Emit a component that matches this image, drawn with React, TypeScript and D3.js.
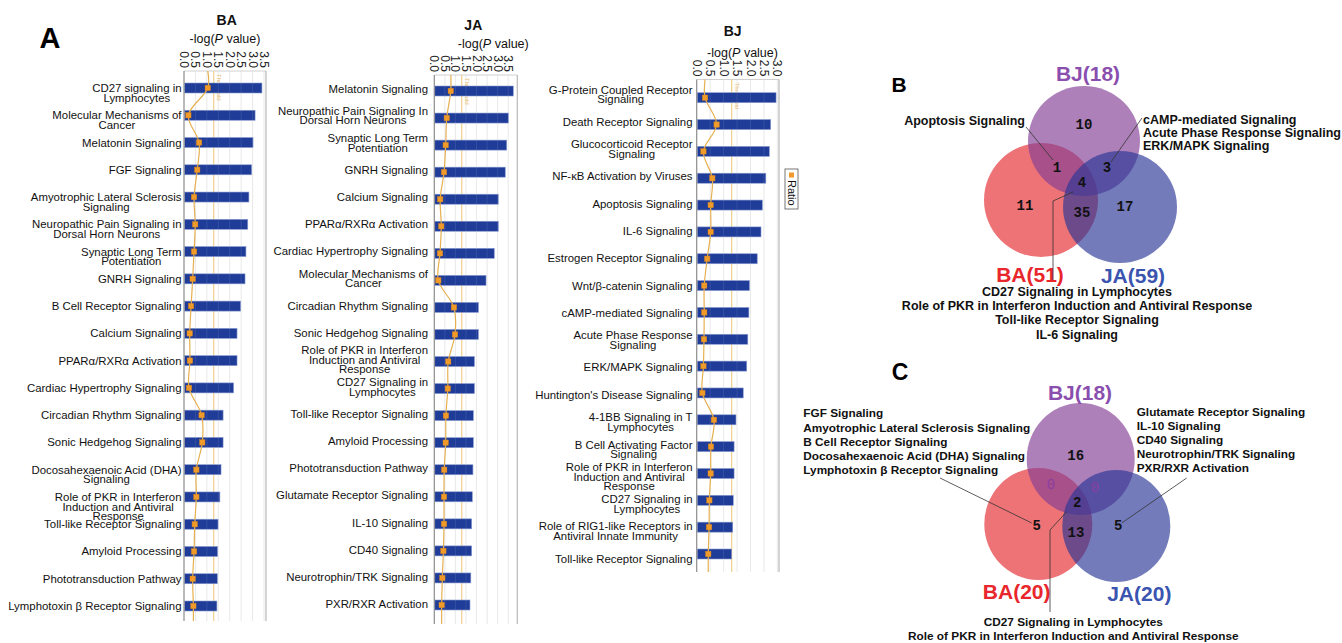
import React, { useEffect, useRef } from "react";
import * as d3 from "d3";

const W = 1342;
const H = 643;
const FONT = "'Liberation Sans',Arial,sans-serif";
const FONT_B = "'Liberation Sans',Arial,sans-serif";
const MONO = "'Liberation Mono','DejaVu Sans Mono',monospace";

// ---------- Panel A data ----------
const baCategories = [
  "CD27 signaling in\nLymphocytes",
  "Molecular Mechanisms of\nCancer",
  "Melatonin Signaling",
  "FGF Signaling",
  "Amyotrophic Lateral Sclerosis\nSignaling",
  "Neuropathic Pain Signaling in\nDorsal Horn Neurons",
  "Synaptic Long Term\nPotentiation",
  "GNRH Signaling",
  "B Cell Receptor Signaling",
  "Calcium Signaling",
  "PPARα/RXRα Activation",
  "Cardiac Hypertrophy Signaling",
  "Circadian Rhythm Signaling",
  "Sonic Hedgehog Signaling",
  "Docosahexaenoic Acid (DHA)\nSignaling",
  "Role of PKR in Interferon\nInduction and Antiviral\nResponse",
  "Toll-like Receptor Signaling",
  "Amyloid Processing",
  "Phototransduction Pathway",
  "Lymphotoxin β Receptor Signaling",
];
const baLogP = [3.41, 3.11, 3.02, 2.96, 2.84, 2.79, 2.71, 2.67, 2.48, 2.32, 2.32, 2.17, 1.71, 1.71, 1.62, 1.57, 1.49, 1.47, 1.46, 1.44];
const baRatio = [1.04, 0.19, 0.66, 0.58, 0.44, 0.49, 0.44, 0.38, 0.31, 0.25, 0.26, 0.22, 0.77, 0.8, 0.54, 0.54, 0.47, 0.44, 0.38, 0.41];

const jaCategories = [
  "Melatonin Signaling",
  "Neuropathic Pain Signaling In\nDorsal Horn Neurons",
  "Synaptic Long Term\nPotentiation",
  "GNRH Signaling",
  "Calcium Signaling",
  "PPARα/RXRα Activation",
  "Cardiac Hypertrophy Signaling",
  "Molecular Mechanisms of\nCancer",
  "Circadian Rhythm Signaling",
  "Sonic Hedgehog Signaling",
  "Role of PKR in Interferon\nInduction and Antiviral\nResponse",
  "CD27 Signaling in\nLymphocytes",
  "Toll-like Receptor Signaling",
  "Amyloid Processing",
  "Phototransduction Pathway",
  "Glutamate Receptor Signaling",
  "IL-10 Signaling",
  "CD40 Signaling",
  "Neurotrophin/TRK Signaling",
  "PXR/RXR Activation",
];
const jaLogP = [3.74, 3.51, 3.43, 3.36, 3.03, 3.03, 2.84, 2.45, 2.09, 2.09, 1.9, 1.9, 1.85, 1.85, 1.83, 1.8, 1.77, 1.77, 1.73, 1.69];
const jaRatio = [0.78, 0.59, 0.54, 0.46, 0.28, 0.33, 0.27, 0.19, 0.93, 0.98, 0.66, 0.64, 0.55, 0.54, 0.47, 0.46, 0.46, 0.43, 0.38, 0.35];

const bjCategories = [
  "G-Protein Coupled Receptor\nSignaling",
  "Death Receptor Signaling",
  "Glucocorticoid Receptor\nSignaling",
  "NF-κB Activation by Viruses",
  "Apoptosis Signaling",
  "IL-6 Signaling",
  "Estrogen Receptor Signaling",
  "Wnt/β-catenin Signaling",
  "cAMP-mediated Signaling",
  "Acute Phase Response\nSignaling",
  "ERK/MAPK Signaling",
  "Huntington's Disease Signaling",
  "4-1BB Signaling in T\nLymphocytes",
  "B Cell Activating Factor\nSignaling",
  "Role of PKR in Interferon\nInduction and Antiviral\nResponse",
  "CD27 Signaling in\nLymphocytes",
  "Role of RIG1-like Receptors in\nAntiviral Innate Immunity",
  "Toll-like Receptor Signaling",
];
const bjLogP = [2.95, 2.75, 2.7, 2.57, 2.44, 2.39, 2.25, 1.96, 1.94, 1.9, 1.86, 1.73, 1.46, 1.39, 1.39, 1.36, 1.34, 1.3];
const bjRatio = [0.31, 0.74, 0.25, 0.58, 0.52, 0.52, 0.39, 0.28, 0.28, 0.27, 0.25, 0.21, 0.64, 0.53, 0.52, 0.47, 0.46, 0.43];

const ticks35 = [0, 0.5, 1.0, 1.5, 2.0, 2.5, 3.0, 3.5];
const ticks30 = [0, 0.5, 1.0, 1.5, 2.0, 2.5, 3.0];
const THRESHOLD = 1.3;

// ---------- Venn data ----------
const vennSetNames = ["BA", "BJ", "JA"];
const vennBTotals = [51, 18, 59];
const vennCTotals = [20, 18, 20];
// regions: BA only, BJ only, JA only, BA∩BJ, BA∩JA, BJ∩JA, BA∩BJ∩JA
const vennBCounts = [11, 10, 17, 1, 35, 3, 4];
const vennCCounts = [5, 16, 5, 0, 13, 0, 2];

const vennBApoptosis = ["Apoptosis Signaling"];
const vennBRightList = ["cAMP-mediated Signaling", "Acute Phase Response Signaling", "ERK/MAPK Signaling"];
const vennBBottomList = [
  "CD27 Signaling in Lymphocytes",
  "Role of PKR in Interferon Induction and Antiviral Response",
  "Toll-like Receptor Signaling",
  "IL-6 Signaling",
];
const vennCLeftList = [
  "FGF Signaling",
  "Amyotrophic Lateral Sclerosis Signaling",
  "B Cell Receptor Signaling",
  "Docosahexaenoic Acid (DHA) Signaling",
  "Lymphotoxin β Receptor Signaling",
];
const vennCRightList = [
  "Glutamate Receptor Signaling",
  "IL-10 Signaling",
  "CD40 Signaling",
  "Neurotrophin/TRK Signaling",
  "PXR/RXR Activation",
];
const vennCBottomList = [
  "CD27 Signaling in Lymphocytes",
  "Role of PKR in Interferon Induction and Antiviral Response",
];

const panels = [
  {
    title: "BA", cats: baCategories, logP: baLogP, ratio: baRatio, ticks: ticks35, tMax: 3.5,
    x0: 184, x1: 264, frameRight: 266, frameTop: 71, frameBottom: 621,
    barY: [88, 606], labelY: [88, 606], labelMode: "first", labelRight: 181.5,
    titleX: 226.7, titleY: 20, subX: 225, subY: 38.5,
  },
  {
    title: "JA", cats: jaCategories, logP: jaLogP, ratio: jaRatio, ticks: ticks35, tMax: 3.5,
    x0: 434.3, x1: 508.2, frameRight: 517.3, frameTop: 75, frameBottom: 624,
    barY: [91, 605], labelY: [88.5, 604], labelMode: "center", labelRight: 428,
    titleX: 473.3, titleY: 25, subX: 493.3, subY: 44,
  },
  {
    title: "BJ", cats: bjCategories, logP: bjLogP, ratio: bjRatio, ticks: ticks30, tMax: 3.0,
    x0: 696.7, x1: 777.4, frameRight: 779, frameTop: 79.5, frameBottom: 572,
    barY: [97.7, 554], labelY: [94.5, 558.5], labelMode: "center", labelRight: 692.5,
    titleX: 732.7, titleY: 31, subX: 742.5, subY: 52.7,
  },
];

const BAR_COLOR = "#1f3c98";
const ORANGE = "#f09a2a";
const RATIO_LINE = "#e6b050";

function drawPanel(svg: any, p: any) {
  const g = svg.append("g");
  const x = d3.scaleLinear().domain([0, p.tMax]).range([p.x0, p.x1]);
  const y = d3.scalePoint<string>().domain(p.cats).range(p.barY);
  const yl = d3.scalePoint<string>().domain(p.cats).range(p.labelY);

  g.append("text").attr("x", p.titleX).attr("y", p.titleY).attr("text-anchor", "middle")
    .attr("dominant-baseline", "central").attr("font-family", FONT_B).attr("font-weight", "bold")
    .attr("font-size", 14).attr("fill", "#111").text(p.title);
  const sub = g.append("text").attr("x", p.subX).attr("y", p.subY).attr("text-anchor", "middle")
    .attr("dominant-baseline", "central").attr("font-family", FONT).attr("font-size", 12.5).attr("fill", "#111");
  sub.append("tspan").text("-log(");
  sub.append("tspan").attr("font-style", "italic").text("P");
  sub.append("tspan").text(" value)");

  g.append("rect").attr("x", p.x0).attr("y", p.frameTop).attr("width", p.frameRight - p.x0)
    .attr("height", p.frameBottom - p.frameTop).attr("fill", "#fff");

  g.selectAll(".grid").data(p.ticks.slice(1)).enter().append("line")
    .attr("x1", (d: number) => x(d)).attr("x2", (d: number) => x(d))
    .attr("y1", p.frameTop).attr("y2", p.frameBottom)
    .attr("stroke", "#e2e2e2").attr("stroke-width", 0.8);

  g.append("line").attr("x1", p.x0).attr("x2", p.frameRight).attr("y1", p.frameTop).attr("y2", p.frameTop)
    .attr("stroke", "#d0d0d0").attr("stroke-width", 1);
  g.append("line").attr("x1", p.frameRight).attr("x2", p.frameRight).attr("y1", p.frameTop).attr("y2", p.frameBottom)
    .attr("stroke", "#b8b8b8").attr("stroke-width", 1.2);

  g.selectAll(".tick").data(p.ticks).enter().append("text")
    .attr("transform", (d: number) => `translate(${x(d)},${p.frameTop - 3}) rotate(90)`)
    .attr("text-anchor", "end").attr("dominant-baseline", "central")
    .attr("font-family", FONT_B).attr("font-size", 12).attr("fill", "#222")
    .text((d: number) => d3.format(".1f")(d));

  g.append("line").attr("x1", x(THRESHOLD)).attr("x2", x(THRESHOLD))
    .attr("y1", p.frameTop).attr("y2", p.frameBottom)
    .attr("stroke", "#f2cf8c").attr("stroke-width", 1.2);
  g.append("text").attr("transform", `translate(${x(THRESHOLD) + 3},${p.frameTop + 3}) rotate(90)`)
    .attr("font-family", FONT).attr("font-size", 6).attr("fill", "#e8b766").text("Threshold");

  const bh = 10;
  g.selectAll(".bar").data(p.cats).enter().append("rect")
    .attr("x", p.x0 + 0.5).attr("y", (d: string) => (y(d) as number) - bh / 2)
    .attr("width", (_: string, i: number) => x(p.logP[i]) - p.x0 - 0.5).attr("height", bh)
    .attr("fill", BAR_COLOR).attr("stroke", "#8a9bd0").attr("stroke-width", 0.6);

  g.selectAll(".grid2").data(p.ticks.slice(1)).enter().append("line")
    .attr("x1", (d: number) => x(d)).attr("x2", (d: number) => x(d))
    .attr("y1", p.frameTop).attr("y2", p.frameBottom)
    .attr("stroke", "#ffffff").attr("stroke-opacity", 0.12).attr("stroke-width", 0.8);

  g.append("line").attr("x1", p.x0).attr("x2", p.x0).attr("y1", p.frameTop).attr("y2", p.frameBottom)
    .attr("stroke", "#8c8c8c").attr("stroke-width", 1.2);

  const pts: [number, number][] = p.cats.map((c: string, i: number) => [p.ratio[i], y(c) as number]);
  const full: [number, number][] = [[p.ratio[0], p.frameTop], ...pts, [p.ratio[p.ratio.length - 1], p.frameBottom]];
  const line = d3.line<[number, number]>().x((d) => x(d[0])).y((d) => d[1]).curve(d3.curveCatmullRom.alpha(0.5));
  g.append("path").attr("d", line(full) as string).attr("fill", "none").attr("stroke", RATIO_LINE).attr("stroke-width", 1.2);
  g.selectAll(".pt").data(pts).enter().append("rect")
    .attr("x", (d: [number, number]) => x(d[0]) - 2.7).attr("y", (d: [number, number]) => d[1] - 2.7)
    .attr("width", 5.4).attr("height", 5.4).attr("fill", ORANGE).attr("stroke", "#d9861a").attr("stroke-width", 0.4);

  const lh = 9.6;
  p.cats.forEach((c: string) => {
    const lines = c.split("\n");
    const cy = yl(c) as number;
    const top = p.labelMode === "first" ? cy : cy - ((lines.length - 1) * lh) / 2;
    const tg = g.append("g");
    const texts = lines.map((ln, j) =>
      tg.append("text").attr("y", top + j * lh).attr("dominant-baseline", "central")
        .attr("font-family", FONT).attr("font-size", 11.4).attr("fill", "#111").text(ln)
    );
    const widths = texts.map((t) => (t.node() as SVGTextElement).getComputedTextLength());
    const maxW = Math.max(...widths);
    const center = p.labelRight - maxW / 2;
    texts.forEach((t) => t.attr("x", center).attr("text-anchor", "middle"));
  });
}

function drawVenn(svg: any, cfg: any) {
  const g = svg.append("g");
  const colors = ["#e42a30", "#833e94", "#2a3697"];
  const labelColors = ["#e8262c", "#8a4fae", "#3a54b0"];
  cfg.circles.forEach((c: any, i: number) => {
    g.append("ellipse").attr("cx", c[0]).attr("cy", c[1]).attr("rx", c[2]).attr("ry", c[3])
      .attr("fill", colors[i]).attr("fill-opacity", 0.66);
  });
  cfg.setLabelPos.forEach((pos: number[], i: number) => {
    g.append("text").attr("x", pos[0]).attr("y", pos[1]).attr("text-anchor", "middle")
      .attr("dominant-baseline", "central").attr("font-family", FONT_B).attr("font-weight", "bold").attr("font-size", 21)
      .attr("fill", labelColors[i]).text(`${vennSetNames[i]}(${cfg.totals[i]})`);
  });
  cfg.countPos.forEach((pos: number[], i: number) => {
    const v = cfg.counts[i];
    g.append("text").attr("x", pos[0]).attr("y", pos[1]).attr("text-anchor", "middle")
      .attr("dominant-baseline", "central").attr("font-family", MONO).attr("font-weight", v === 0 ? "normal" : "bold")
      .attr("font-size", 14).attr("fill", v === 0 ? "#8a3fa0" : "#111").text(v);
  });
  cfg.leaders.forEach((pl: number[][]) => {
    g.append("path").attr("d", d3.line()(pl as [number, number][]) as string)
      .attr("fill", "none").attr("stroke", "#333").attr("stroke-width", 0.8);
  });
  cfg.blocks.forEach((b: any) => {
    b.lines.forEach((ln: string, j: number) => {
      g.append("text").attr("x", b.x).attr("y", b.y + j * b.lh).attr("text-anchor", b.anchor)
        .attr("dominant-baseline", "central").attr("font-family", FONT_B).attr("font-weight", "bold")
        .attr("font-size", b.fs).attr("fill", "#111").text(ln);
    });
  });
  g.append("text").attr("x", cfg.letter[0]).attr("y", cfg.letter[1]).attr("text-anchor", "middle")
    .attr("dominant-baseline", "central").attr("font-family", FONT_B).attr("font-weight", "bold")
    .attr("font-size", cfg.letterSize).attr("fill", "#000").text(cfg.letterText);
}

export default function App() {
  const ref = useRef<SVGSVGElement | null>(null);
  useEffect(() => {
    const svg = d3.select(ref.current as SVGSVGElement);
    svg.selectAll("*").remove();
    svg.append("rect").attr("width", W).attr("height", H).attr("fill", "#fff");

    svg.append("text").attr("x", 50).attr("y", 38).attr("text-anchor", "middle").attr("dominant-baseline", "central")
      .attr("font-family", FONT_B).attr("font-weight", "bold").attr("font-size", 29).text("A");

    panels.forEach((p) => drawPanel(svg, p));

    const lg = svg.append("g");
    lg.append("rect").attr("x", 785).attr("y", 169).attr("width", 13).attr("height", 40)
      .attr("fill", "#fff").attr("stroke", "#555").attr("stroke-width", 0.8);
    lg.append("rect").attr("x", 789).attr("y", 172.5).attr("width", 5).attr("height", 5).attr("fill", ORANGE);
    lg.append("text").attr("transform", "translate(791.5,180) rotate(90)").attr("dominant-baseline", "central")
      .attr("font-family", FONT).attr("font-size", 11).attr("fill", "#111").text("Ratio");

    drawVenn(svg, {
      letterText: "B", letter: [899, 84], letterSize: 21,
      circles: [[1041, 200, 57, 57], [1084, 141, 56, 55], [1120, 207, 57, 56]],
      totals: vennBTotals, counts: vennBCounts,
      setLabelPos: [[1030, 274], [1088, 73], [1133, 275]],
      countPos: [[1025, 206], [1084, 125], [1125, 207], [1057, 168], [1082, 213], [1107, 168], [1082, 183]],
      leaders: [
        [[1026, 127], [1053, 160]],
        [[1142, 118], [1111, 162]],
        [[1053, 280], [1053, 201], [1073, 192]],
      ],
      blocks: [
        { lines: vennBApoptosis, x: 1025, y: 121, lh: 13.5, anchor: "end", fs: 12.5 },
        { lines: vennBRightList, x: 1143, y: 119.5, lh: 13.4, anchor: "start", fs: 12.5 },
        { lines: vennBBottomList, x: 1077, y: 291.7, lh: 14.3, anchor: "middle", fs: 12.5 },
      ],
    });

    drawVenn(svg, {
      letterText: "C", letter: [900, 371.5], letterSize: 23,
      circles: [[1038.3, 524, 54, 56], [1080.7, 459, 54, 56], [1116.3, 526, 54, 56]],
      totals: vennCTotals, counts: vennCCounts,
      setLabelPos: [[1016.7, 591], [1080, 392], [1139.3, 593]],
      countPos: [[1036.7, 525.7], [1075.7, 456], [1118.3, 525.7], [1051, 485], [1076, 533.3], [1095, 488.3], [1077.3, 503.3]],
      leaders: [
        [[940, 478], [1031.7, 523]],
        [[1186.7, 478], [1121.7, 523]],
        [[1050, 612], [1050, 530], [1066.7, 511.7]],
      ],
      blocks: [
        { lines: vennCLeftList, x: 803.3, y: 413.3, lh: 14.2, anchor: "start", fs: 11.8 },
        { lines: vennCRightList, x: 1136.7, y: 411.7, lh: 14.1, anchor: "start", fs: 11.8 },
        { lines: vennCBottomList, x: 1073.3, y: 621.7, lh: 14.3, anchor: "middle", fs: 11.8 },
      ],
    });
  }, []);
  return (
    <svg ref={ref} width={W} height={H} style={{ position: "absolute", left: 0, top: 0, display: "block" }} />
  );
}
